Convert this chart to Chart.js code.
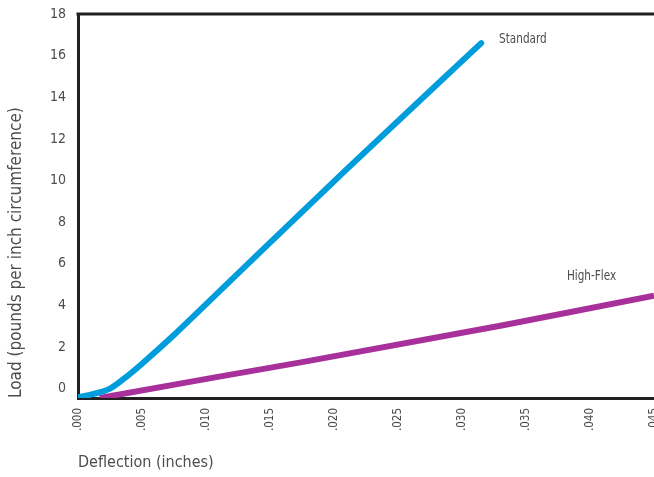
<!DOCTYPE html>
<html><head><meta charset="utf-8">
<script src="https://cdn.jsdelivr.net/npm/chart.js@4/dist/chart.umd.min.js"></script>
<style>html,body{margin:0;padding:0;background:#fff;overflow:hidden}</style>
</head><body>
<canvas id="c" width="654" height="477" style="display:block;width:654px;height:477px"></canvas>
<script>
// ---- data ----
const seriesNames = ['Standard', 'High-Flex'];
const deflectionStandard = [0, 0.0013, 0.0025, 0.0038, 0.005, 0.0076, 0.0107, 0.021, 0.0315];
const loadStandard       = [-0.42, -0.24, 0, 0.58, 1.2, 2.64, 4.47, 10.55, 16.6];
const deflectionHighFlex = [0.0017, 0.0107, 0.0174, 0.0331, 0.045];
const loadHighFlex       = [-0.45, 0.54, 1.26, 3.03, 4.47];
const xTickValues = [0, 0.005, 0.010, 0.015, 0.020, 0.025, 0.030, 0.035, 0.040, 0.045];
const xTickLabels = ['.000', '.005', '.010', '.015', '.020', '.025', '.030', '.035', '.040', '.045'];
const yTickValues = [0, 2, 4, 6, 8, 10, 12, 14, 16, 18];
const xTitle = 'Deflection (inches)';
const yTitle = 'Load (pounds per inch circumference)';

const FONT = "'Liberation Sans Narrow', 'DejaVu Sans Condensed', 'Liberation Sans', sans-serif";
const TEXT = '#4d4d4f';
const AXIS = '#231f20';

const toPoints = (xs, ys) => xs.map((v, i) => ({x: v, y: ys[i]}));

// series labels (anchored in data units) and the top border
const overlay = {
  id: 'overlay',
  afterDatasetsDraw(chart) {
    const {ctx, chartArea: {left, right, top}, scales: {x, y}} = chart;
    ctx.save();
    ctx.strokeStyle = AXIS; ctx.lineWidth = 3;
    ctx.beginPath(); ctx.moveTo(left - 1.5, top); ctx.lineTo(right, top); ctx.stroke();
    ctx.fillStyle = TEXT; ctx.font = '14px ' + FONT;
    ctx.textAlign = 'left'; ctx.textBaseline = 'middle';
    const anchors = [[0.0329, 16.8], [0.0382, 5.4]];
    seriesNames.forEach((n, i) => {
      const px = x.getPixelForValue(anchors[i][0]), py = y.getPixelForValue(anchors[i][1]);
      ctx.save(); ctx.translate(px, py); ctx.scale(0.83, 1);
      ctx.fillText(n, 0, 0);
      ctx.restore();
    });
    ctx.restore();
  }
};

new Chart(document.getElementById('c'), {
  type: 'scatter',
  data: {
    datasets: [
      {label: seriesNames[0], data: toPoints(deflectionStandard, loadStandard), showLine: true,
       borderColor: '#009ddc', backgroundColor: '#009ddc', borderWidth: 6, pointRadius: 0,
       cubicInterpolationMode: 'monotone', borderCapStyle: 'round', borderJoinStyle: 'round'},
      {label: seriesNames[1], data: toPoints(deflectionHighFlex, loadHighFlex), showLine: true,
       borderColor: '#a8309a', backgroundColor: '#a8309a', borderWidth: 6, pointRadius: 0,
       tension: 0, borderCapStyle: 'butt'}
    ]
  },
  options: {
    responsive: false, animation: false, devicePixelRatio: 1,
    layout: {padding: {top: 14, right: 0, bottom: 0, left: 0}},
    plugins: {legend: {display: false}, tooltip: {enabled: false}},
    scales: {
      x: {
        type: 'linear', min: 0, max: 0.045,
        grid: {display: false, drawTicks: false},
        border: {display: true, color: AXIS, width: 3},
        afterBuildTicks: s => { s.ticks = xTickValues.map(v => ({value: v})); },
        afterFit: s => { s.height = 79; s.paddingLeft = 0; s.paddingRight = 0; s.paddingTop = 0; s.paddingBottom = 0; },
        ticks: {autoSkip: false, minRotation: 90, maxRotation: 90, padding: 10, color: TEXT,
                font: {family: FONT, size: 11.5},
                callback: (v, i) => xTickLabels[i]},
        title: {display: true, text: xTitle, align: 'start', color: TEXT,
                font: {family: FONT, size: 16}, padding: {top: 0, bottom: 5}}
      },
      y: {
        type: 'linear', min: -0.45, max: 18,
        grid: {display: false, drawTicks: false},
        border: {display: true, color: AXIS, width: 3},
        afterBuildTicks: s => { s.ticks = yTickValues.map(v => ({value: v})); },
        afterFit: s => { s.width = 78; s.paddingTop = 0; s.paddingBottom = 0; },
        ticks: {padding: 12, color: TEXT, font: {family: FONT, size: 14},
                callback: v => String(v)},
        title: {display: true, text: yTitle, align: 'start', color: TEXT,
                font: {family: FONT, size: 17}, padding: {top: 6, bottom: 0}}
      }
    }
  },
  plugins: [overlay]
});
</script>
</body></html>
